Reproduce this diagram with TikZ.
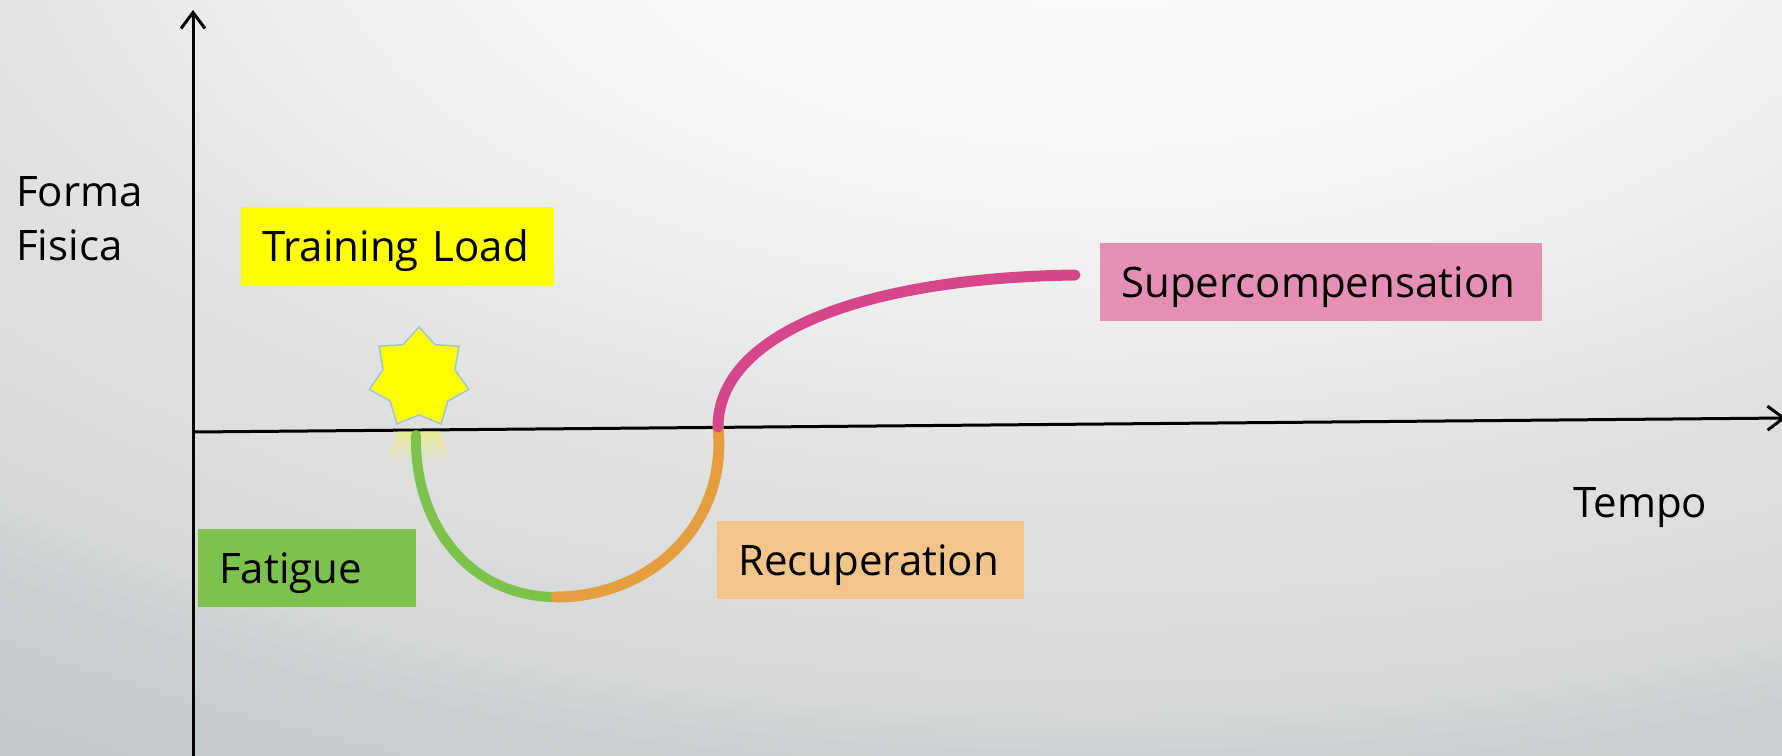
\documentclass[tikz,border=0pt]{standalone}
\usepackage{fontspec}
\setmainfont{Open Sans}
\usetikzlibrary{arrows.meta,shapes.geometric,fadings}
\definecolor{bg0}{HTML}{FAFAFA}
\definecolor{bg1}{HTML}{F6F6F6}
\definecolor{bg2}{HTML}{E4E5E5}
\definecolor{bg3}{HTML}{D5D7D8}
\definecolor{bg4}{HTML}{CACED0}
\definecolor{bg5}{HTML}{C4C9CB}
\definecolor{loadY}{HTML}{FFFF00}
\definecolor{fatG}{HTML}{7DC24F}
\definecolor{recO}{HTML}{F0C48A}
\definecolor{supP}{HTML}{E68FB5}
\definecolor{lineG}{HTML}{7DC24B}
\definecolor{lineO}{HTML}{E59E3E}
\definecolor{lineP}{HTML}{D6478A}
\definecolor{starEdge}{HTML}{9DC3E6}
\newcommand\bgseg[5]{%
  \foreach \i in {0,...,#5}{%
    \pgfmathsetmacro\rr{#1-(#1-#2)*\i/#5}%
    \pgfmathtruncatemacro\pp{100-100*\i/#5}%
    \fill[#3!\pp!#4] (1100,-100) ellipse [x radius=2000*\rr, y radius=1000*\rr];
  }}
\tikzset{
  lbl/.style={font=\fontsize{42}{50}\selectfont, text=black, inner sep=0pt},
  labelbox/.style={lbl, minimum height=78pt, inner xsep=21pt, inner ysep=0pt, align=left, anchor=west, text height=30pt, text depth=0pt},
  axisline/.style={line width=3pt, -{Straight Barb[length=16pt,width=24pt]}},
  curveline/.style={line width=11pt, line cap=round},
}
\begin{document}
\begin{tikzpicture}[x=1pt,y=-1pt]
\useasboundingbox (0,0) rectangle (1782,755);
\begin{scope}
  \fill[bg5] (-10,-10) rectangle (1792,765);
  \clip (-10,-10) rectangle (1792,765);
  \bgseg{1.00}{0.88}{bg5}{bg4}{8}
  \bgseg{0.88}{0.82}{bg4}{bg3}{6}
  \bgseg{0.82}{0.54}{bg3}{bg2}{16}
  \bgseg{0.54}{0.30}{bg2}{bg1}{18}
  \bgseg{0.30}{0.02}{bg1}{bg0}{6}
\end{scope}
% axes
\coordinate (o) at (193,760);
\coordinate (ytop) at (193,10);
\coordinate (xl) at (193,432);
\coordinate (xr) at (1786,418);
\draw[axisline] (o) -- (ytop);
\draw[axisline] (xl) -- (xr);
% star reflection
\fill[loadY, opacity=0.35, path fading=south] (398,431) -- (440,431) -- (452,462) -- (386,462) -- cycle;
% star
\node[star, star points=7, star point ratio=1.38, minimum size=102pt, inner sep=0pt,
      fill=loadY, draw=starEdge, line width=1.5pt] (burst) at (419,378) {};
% curve points
\coordinate (A) at (416,435);
\coordinate (B) at (556,597);
\coordinate (C) at (718,427);
\coordinate (D) at (1075,275);
\draw[curveline, lineG, line width=10pt] (A) .. controls (414,525) and (470,597) .. (B);
\draw[curveline, lineO] (B) .. controls (650,597) and (728,525) .. (C);
\draw[curveline, lineP] (C) .. controls (718,335) and (860,278) .. (D);
% labels
\node[lbl, anchor=base west] (forma) at (16,206) {Forma};
\node[lbl, anchor=base west] (fisica) at (16,260) {Fisica};
\node[lbl, anchor=base west] (tempo) at (1573,517) {Tempo};
\node[labelbox, fill=loadY, text width=271pt] (load) at (241,246) {\mbox{Training Load}};
\node[labelbox, fill=fatG, text width=176pt] (fatigue) at (198,568) {\mbox{Fatigue}};
\node[labelbox, fill=recO, text width=265pt] (recup) at (717,560) {\mbox{Recuperation}};
\node[labelbox, fill=supP, text width=400pt] (super) at (1100,282) {\mbox{Supercompensation}};
\end{tikzpicture}
\end{document}
